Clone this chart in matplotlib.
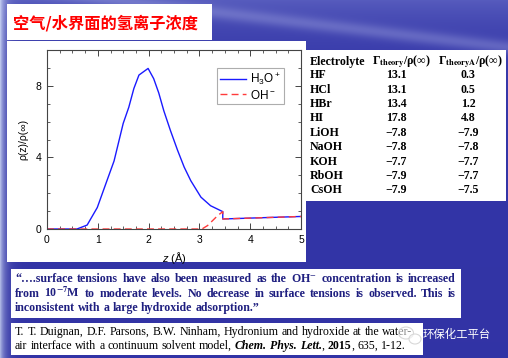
import numpy as np
import matplotlib
matplotlib.use('Agg')
import matplotlib.pyplot as plt
from matplotlib.patches import Rectangle, Ellipse
from matplotlib.ticker import MultipleLocator

plt.rcParams['font.family'] = ['Liberation Sans', 'DejaVu Sans']
plt.rcParams['mathtext.fontset'] = 'custom'
plt.rcParams['mathtext.rm'] = 'Liberation Sans'
plt.rcParams['mathtext.it'] = 'Liberation Sans:italic'
plt.rcParams['mathtext.bf'] = 'Liberation Sans:bold'

# curve data
z_h3o = [0.0, 0.59, 0.79, 0.99, 1.18, 1.32, 1.5, 1.61, 1.71, 1.81, 1.99, 2.1,
         2.2, 2.3, 2.43, 2.57, 2.7, 2.83, 3.03, 3.22, 3.46, 3.46, 5.0]
rho_h3o = [0.0, 0.0, 0.22, 1.2, 2.7, 3.8, 5.9, 6.8, 7.85, 8.6, 8.97, 8.4,
           7.6, 6.6, 5.5, 4.4, 3.46, 2.7, 1.78, 1.3, 0.97, 0.56, 0.7]
z_oh = [0.0, 3.05, 3.16, 3.36, 3.46, 3.46, 5.0]
rho_oh = [0.0, 0.0, 0.19, 0.75, 0.97, 0.56, 0.7]

# table data
electrolytes = ["HF", "HCl", "HBr", "HI", "LiOH", "NaOH", "KOH", "RbOH", "CsOH"]
gamma_theory = [13.1, 13.1, 13.4, 17.8, -7.8, -7.8, -7.7, -7.9, -7.9]
gamma_theoryA = [0.3, 0.5, 1.2, 4.8, -7.9, -7.8, -7.7, -7.7, -7.5]

title = "空气/水界面的氢离子浓度"
quote_lines = [
    ["“….surface", "tensions", "have", "also", "been", "measured", "as", "the",
     r"OH$^{-}$", "concentration", "is", "increased"],
    ["from", r"10$^{\mathbf{-7}}$M", "to", "moderate", "levels.", "No", "decrease", "in",
     "surface", "tensions", "is", "observed.", "This", "is"],
    ["inconsistent", "with", "a", "large", "hydroxide", "adsorption.”"],
]
ref_line1 = "T. T. Duignan, D.F. Parsons, B.W. Ninham, Hydronium and hydroxide at the water-"
ref_line2 = [("air interface with a continuum solvent model,", 'normal', 'normal'),
             ("Chem. Phys. Lett.", 'bold', 'italic'),
             (",", 'normal', 'normal'),
             ("2015", 'bold', 'normal'),
             (", 635, 1-12.", 'normal', 'normal')]
watermark = "环保化工平台"

W, H = 508, 358
fig = plt.figure(figsize=(W / 100, H / 100), dpi=100)


def fx(x):
    return x / W


def fy(y):
    return 1 - y / H


# slide background
yy, xx = np.mgrid[0:H, 0:W]
base = np.array([52, 54, 168]) / 255
img = np.ones((H, W, 3)) * base
top = np.exp(-yy / 35.0)[..., None]
img = img * (1 - 0.5 * top) + np.array([120, 128, 210]) / 255 * 0.5 * top
streak = np.exp(-((yy - 0.12 * (xx - 300) - 22) / 7.0) ** 2)[..., None] * 0.35
img = img * (1 - streak) + np.array([170, 175, 230]) / 255 * streak
left = np.exp(-xx / 5.0)[..., None]
img = img * (1 - left) + np.array([190, 200, 238]) / 255 * left
bot = (yy / H)[..., None]
img = img * (1 - 0.15 * bot) + np.array([38, 38, 150]) / 255 * 0.15 * bot
ax_bg = fig.add_axes([0, 0, 1, 1], zorder=-3)
ax_bg.imshow(np.clip(img, 0, 1), aspect='auto', extent=[0, 1, 0, 1])
ax_bg.axis('off')

# white panels (x0, y0, x1, y1 in pixels from top-left)
panels = [(7, 4, 212, 40), (7, 41, 306, 262), (306, 50, 506, 201),
          (11, 269, 461, 318), (11, 323, 423, 355)]
for x0, y0, x1, y1 in panels:
    fig.add_artist(Rectangle((fx(x0), fy(y1)), (x1 - x0) / W, (y1 - y0) / H,
                             transform=fig.transFigure, facecolor='white',
                             edgecolor='none', zorder=-2))

fig.text(fx(13), fy(23), title, family=['Noto Sans CJK SC', 'DejaVu Sans'],
         fontsize=11.7, fontweight='bold', color='#ff0000', va='center', ha='left')

# chart
ax = fig.add_axes([fx(47), fy(229), 254 / W, 179 / H], zorder=0)
ax.plot(z_h3o, rho_h3o, color='#1a1aff', lw=1.0, label=r'$\mathrm{H_3O^+}$')
ax.plot(z_oh, rho_oh, color='#ff3b3b', lw=1.0, ls=(0, (5, 3)), label=r'$\mathrm{OH^-}$')
ax.set_xlim(0, 5)
ax.set_ylim(0, 10)
ax.xaxis.set_major_locator(MultipleLocator(1))
ax.xaxis.set_minor_locator(MultipleLocator(0.25))
ax.yaxis.set_major_locator(MultipleLocator(4))
ax.yaxis.set_minor_locator(MultipleLocator(1))
ax.tick_params(which='both', direction='in', top=True, right=True, color='#444444')
ax.tick_params(which='major', length=4, width=0.7, labelsize=7.5, pad=4)
ax.tick_params(which='minor', length=2.2, width=0.6)
for s in ax.spines.values():
    s.set_color('#444444')
    s.set_linewidth(0.8)
ax.set_ylabel('ρ(z)/ρ(∞)', fontsize=7.5, labelpad=5)
ax.set_xlabel('$z$ (Å)', fontsize=8, labelpad=4)
leg = ax.legend(loc='upper right', bbox_to_anchor=(0.933, 0.9), fontsize=8.5,
                frameon=True, fancybox=False, edgecolor='#999999', handlelength=2.2,
                borderpad=0.25, labelspacing=0.15, handletextpad=0.4, borderaxespad=0)
leg.get_frame().set_linewidth(0.8)

# table
serif = ['Liberation Serif', 'DejaVu Serif']
rows_y = [75, 90, 104, 118, 133, 147, 162, 176, 190]
tkw = dict(family=serif, fontweight='bold', fontsize=8.6, color='black', va='center')
fig.text(fx(310), fy(62), "Electrolyte", ha='left', **tkw)
fig.text(fx(401), fy(62), r"Γ$_{\mathbf{theory}}$/ρ(∞)", ha='center',
         math_fontfamily='stix', **tkw)
fig.text(fx(470), fy(62), r"Γ$_{\mathbf{theoryA}}$/ρ(∞)", ha='center',
         math_fontfamily='stix', **tkw)
for name, g1, g2, y in zip(electrolytes, gamma_theory, gamma_theoryA, rows_y):
    fig.text(fx(310), fy(y), name, ha='left', **tkw)
    fig.text(fx(396), fy(y), f"{g1:.1f}".replace('-', '−'), ha='center', **tkw)
    fig.text(fx(468), fy(y), f"{g2:.1f}".replace('-', '−'), ha='center', **tkw)

renderer = fig.canvas.get_renderer()


def place_words(words, x0, y, x1=None, **kw):
    texts = [fig.text(0, fy(y), w, va='baseline', ha='left', **kw) for w in words]
    widths = [t.get_window_extent(renderer).width for t in texts]
    if x1 is None:
        gap = 0.25 * kw['fontsize'] * 100 / 72
    else:
        gap = (x1 - x0 - sum(widths)) / (len(words) - 1)
    x = x0
    for t, w in zip(texts, widths):
        t.set_x(fx(x))
        x += w + gap
    return x


qkw = dict(family=serif, fontweight='bold', fontsize=8.6, color='#1f1f80',
           math_fontfamily='stix')
place_words(quote_lines[0], 15, 282, 456, **qkw)
place_words(quote_lines[1], 15, 297, 456, **qkw)
place_words(quote_lines[2], 15, 311, **qkw)

rkw = dict(family=serif, fontsize=8.6, color='black')
place_words(ref_line1.split(' '), 15, 335, **rkw)
x = 15
for seg, wt, st in ref_line2:
    if seg.startswith(','):
        x -= 0.25 * 8.6 * 100 / 72
    x = place_words(seg.split(' '), x, 349, fontweight=wt, fontstyle=st, **rkw)

# watermark
fig.add_artist(Ellipse((fx(406), fy(333)), 15 / W, 12 / H, transform=fig.transFigure,
                       facecolor=(1, 1, 1, 0.55), edgecolor='#d8d8d8', lw=0.8, zorder=5))
fig.add_artist(Ellipse((fx(415), fy(339)), 12 / W, 10 / H, transform=fig.transFigure,
                       facecolor=(1, 1, 1, 0.55), edgecolor='#d8d8d8', lw=0.8, zorder=5))
fig.text(fx(423), fy(334), watermark, family=['Noto Sans CJK SC', 'DejaVu Sans'],
         fontsize=8.2, color='white', va='center', ha='left', zorder=6)

fig.savefig('out.png', dpi=100)
